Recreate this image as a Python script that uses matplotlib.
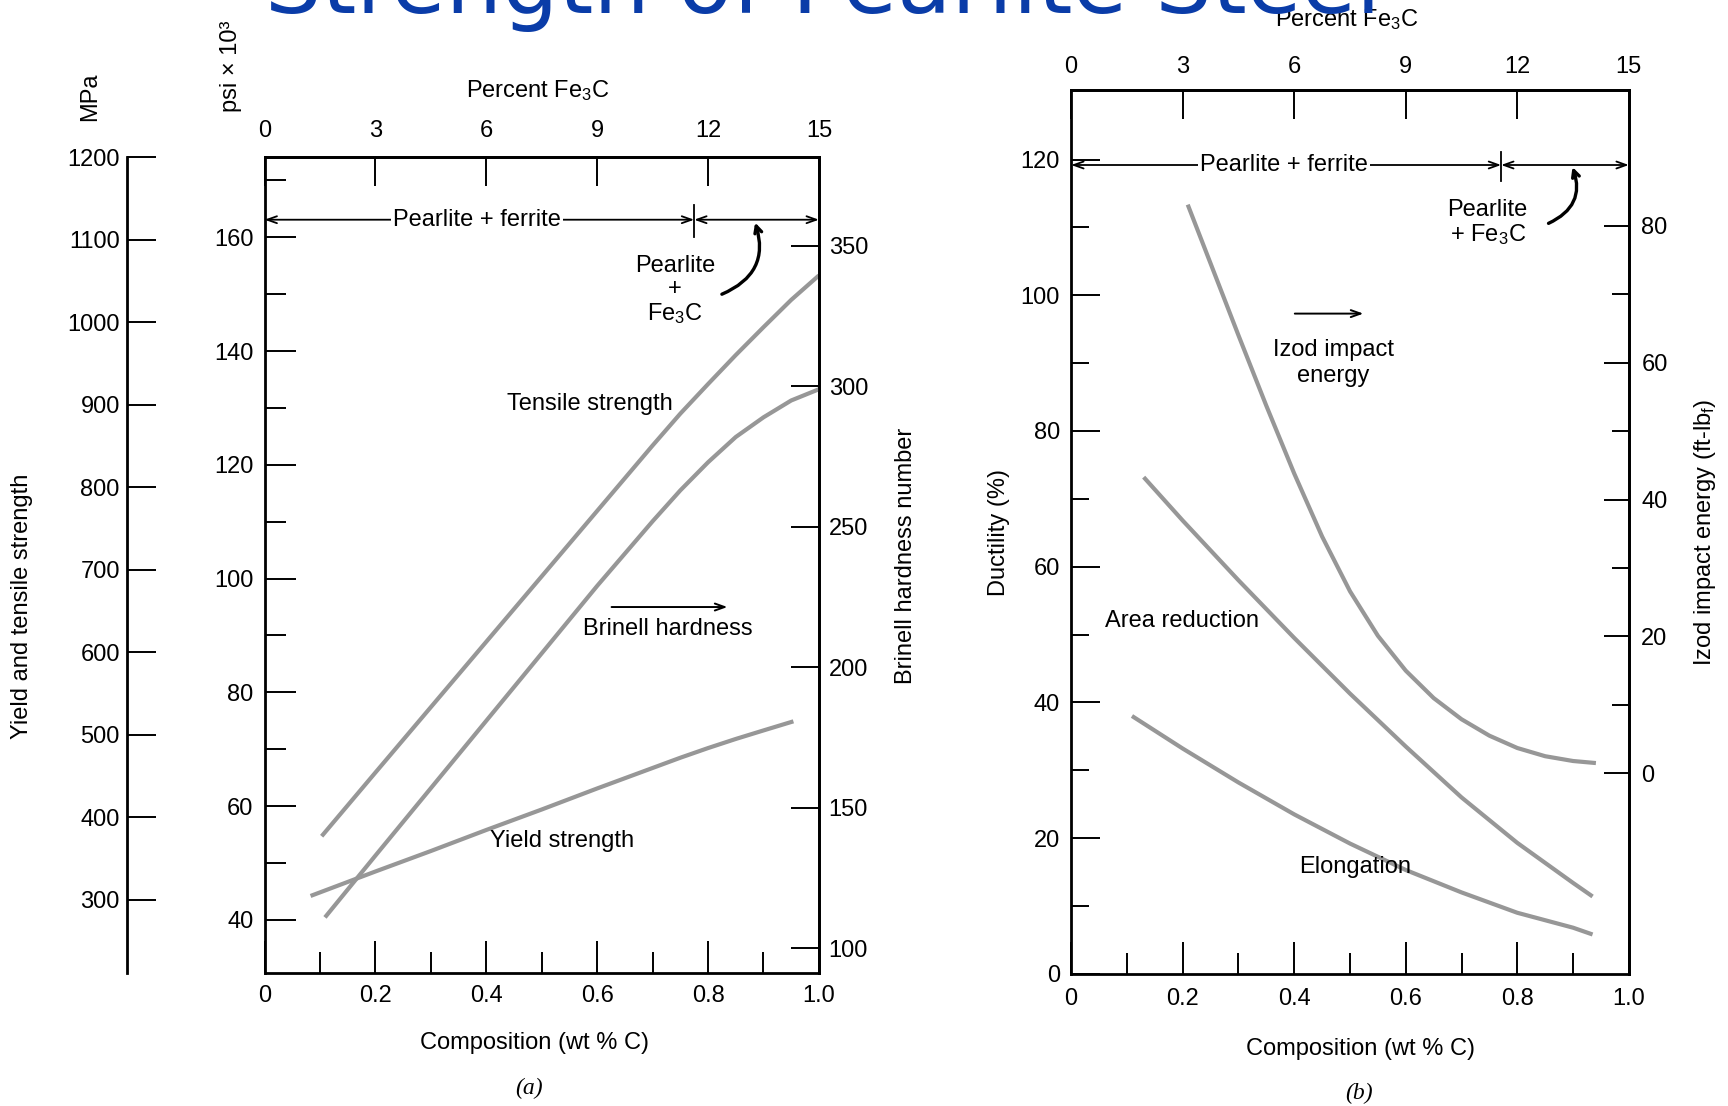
import matplotlib
matplotlib.use("Agg")
import matplotlib.pyplot as plt

plt.rcParams['font.family'] = ['Liberation Sans', 'DejaVu Sans']
plt.rcParams['mathtext.fontset'] = 'custom'
plt.rcParams['mathtext.rm'] = 'Liberation Sans'
plt.rcParams['mathtext.default'] = 'rm'

# ---------------- (a) strength and hardness vs. carbon ----------------
tensile_carbon = [0.103, 0.2, 0.3, 0.4, 0.5, 0.6, 0.7, 0.75, 0.8, 0.85, 0.9, 0.95, 1.0]
tensile_ksi = [54.7, 65.9, 77.4, 88.9, 100.4, 111.9, 123.4, 129.0, 134.2, 139.3, 144.2, 149.0, 153.3]

yield_carbon = [0.083, 0.2, 0.3, 0.4, 0.5, 0.6, 0.7, 0.75, 0.8, 0.85, 0.9, 0.954]
yield_ksi = [44.2, 48.5, 52.1, 55.8, 59.4, 63.1, 66.7, 68.5, 70.2, 71.8, 73.3, 74.9]

brinell_carbon = [0.109, 0.2, 0.3, 0.4, 0.5, 0.6, 0.7, 0.75, 0.8, 0.85, 0.9, 0.95, 1.0]
brinell_hb = [111, 133, 157, 181, 205, 229, 252, 263, 273, 282, 289, 295, 299]

# ---------------- (b) ductility and toughness vs. carbon ----------------
area_carbon = [0.13, 0.2, 0.3, 0.4, 0.5, 0.6, 0.7, 0.8, 0.9, 0.935]
area_reduction = [73.2, 66.8, 58.0, 49.5, 41.3, 33.5, 26.0, 19.3, 13.4, 11.4]

elong_carbon = [0.109, 0.2, 0.3, 0.4, 0.5, 0.6, 0.7, 0.8, 0.9, 0.935]
elongation = [38.0, 33.2, 28.2, 23.5, 19.2, 15.3, 12.0, 9.0, 6.8, 5.8]

izod_carbon = [0.209, 0.25, 0.3, 0.35, 0.4, 0.45, 0.5, 0.55, 0.6, 0.65,
               0.7, 0.75, 0.8, 0.85, 0.9, 0.941]
izod_ftlb = [83.1, 74.5, 64.0, 53.7, 43.8, 34.6, 26.6, 20.1, 15.0, 11.0,
             7.9, 5.5, 3.7, 2.5, 1.8, 1.5]

# ---------------- axis ticks ----------------
comp_ticks = [0, 0.2, 0.4, 0.6, 0.8, 1.0]
comp_labels = ["0", "0.2", "0.4", "0.6", "0.8", "1.0"]
comp_minor = [0.1, 0.3, 0.5, 0.7, 0.9]
fe3c_ticks = [0, 3, 6, 9, 12, 15]
psi_ticks = [40, 60, 80, 100, 120, 140, 160]
psi_minor = [50, 70, 90, 110, 130, 150, 170]
mpa_ticks = [300, 400, 500, 600, 700, 800, 900, 1000, 1100, 1200]
hb_ticks = [100, 150, 200, 250, 300, 350]
duct_ticks = [0, 20, 40, 60, 80, 100, 120]
duct_minor = [10, 30, 50, 70, 90, 110]
izod_ticks = [0, 20, 40, 60, 80]
izod_minor = [10, 30, 50, 70]

KSI_TO_MPA = 6.895
FE3C_PER_C = 15.0  # percent Fe3C per wt% C (approx.)

GRAY = '#979797'
FS = 17
SPINE_W = 2.0
TICK_W = 1.4

fig = plt.figure(figsize=(17.28, 11.06), dpi=100)


def style_spines(ax):
    for s in ax.spines.values():
        s.set_linewidth(SPINE_W)


def phase_bar(ax, y, split, y_lo, y_hi, label_x):
    kw = dict(arrowstyle='<->,head_length=0.7,head_width=0.25', lw=1.3,
              color='black', shrinkA=0, shrinkB=0)
    ax.annotate('', xy=(0, y), xytext=(split, y), arrowprops=kw)
    ax.annotate('', xy=(split, y), xytext=(1.0, y), arrowprops=kw)
    ax.plot([split, split], [y_lo, y_hi], color='black', lw=1.3)
    ax.text(label_x, y, 'Pearlite + ferrite', ha='center', va='center', fontsize=FS,
            bbox=dict(facecolor='white', edgecolor='none', pad=1.5))


def curve(ax, xs, ys):
    ax.plot(xs, ys, color=GRAY, lw=3.0, solid_capstyle='butt', solid_joinstyle='round')


# ======================= panel (a) =======================
axA = fig.add_axes([0.1531, 0.1205, 0.3208, 0.7371])
style_spines(axA)
axA.set_xlim(0, 1)
axA.set_ylim(30.7, 1200 / KSI_TO_MPA)
axA.set_xticks(comp_ticks)
axA.set_xticklabels(comp_labels)
axA.set_xticks(comp_minor, minor=True)
axA.set_yticks(psi_ticks)
axA.set_yticks(psi_minor, minor=True)
axA.tick_params(axis='x', which='major', direction='in', length=23, width=TICK_W,
                labelsize=FS, pad=9, top=False)
axA.tick_params(axis='x', which='minor', direction='in', length=15, width=TICK_W, top=False)
axA.tick_params(axis='y', which='major', direction='in', length=22, width=TICK_W,
                labelsize=FS, pad=8, right=False)
axA.tick_params(axis='y', which='minor', direction='in', length=15, width=TICK_W, right=False)

topA = axA.secondary_xaxis('top', functions=(lambda c: c * FE3C_PER_C,
                                             lambda p: p / FE3C_PER_C))
topA.set_xticks(fe3c_ticks)
topA.tick_params(direction='in', length=21, width=TICK_W, labelsize=FS, pad=11)
topA.spines['top'].set_linewidth(SPINE_W)

mpa = axA.secondary_yaxis(-0.2485, functions=(lambda k: k * KSI_TO_MPA,
                                              lambda m: m / KSI_TO_MPA))
mpa.set_yticks(mpa_ticks)
mpa.tick_params(direction='in', length=21, width=TICK_W, labelsize=FS, pad=5)
mpa.spines['left'].set_linewidth(SPINE_W)

axB = axA.twinx()
axB.set_ylim(91.3, 381.5)
axB.set_yticks(hb_ticks)
axB.tick_params(axis='y', direction='in', length=20, width=TICK_W, labelsize=FS, pad=7)
for side in ('left', 'top', 'bottom'):
    axB.spines[side].set_visible(False)
axB.spines['right'].set_linewidth(SPINE_W)

curve(axA, tensile_carbon, tensile_ksi)
curve(axA, yield_carbon, yield_ksi)
curve(axB, brinell_carbon, brinell_hb)

phase_bar(axA, 163.1, 0.775, 160.0, 165.6, 0.384)
axA.text(0.740, 150.7, 'Pearlite\n+\nFe$_3$C', ha='center', va='center', fontsize=FS,
         linespacing=1.05)
axA.annotate('', xy=(0.885, 162.6), xytext=(0.825, 150.0),
             arrowprops=dict(arrowstyle='->,head_length=0.5,head_width=0.25', lw=2.4,
                             color='black', shrinkA=0, shrinkB=0,
                             connectionstyle='arc3,rad=0.45'))
axA.text(0.586, 130.7, 'Tensile strength', ha='center', va='center', fontsize=FS)
axA.annotate('', xy=(0.835, 95.0), xytext=(0.626, 95.0),
             arrowprops=dict(arrowstyle='->,head_length=0.7,head_width=0.25', lw=1.4,
                             color='black', shrinkA=0, shrinkB=0))
axA.text(0.728, 91.1, 'Brinell hardness', ha='center', va='center', fontsize=FS)
axA.text(0.537, 53.9, 'Yield strength', ha='center', va='center', fontsize=FS)

fig.text(0.0523, 0.9124, 'MPa', rotation=90, ha='center', va='center', fontsize=FS)
fig.text(0.1339, 0.9402, 'psi × 10³', rotation=90, ha='center', va='center', fontsize=FS)
fig.text(0.0128, 0.4522, 'Yield and tensile strength', rotation=90, ha='center',
         va='center', fontsize=FS)
fig.text(0.3112, 0.9183, 'Percent Fe$_3$C', ha='center', va='center', fontsize=FS)
fig.text(0.3093, 0.0568, 'Composition (wt % C)', ha='center', va='center', fontsize=FS)
fig.text(0.3061, 0.0159, '(a)', ha='center', va='center', fontsize=FS,
         family='Liberation Serif', style='italic')
fig.text(0.5242, 0.4970, 'Brinell hardness number', rotation=90, ha='center',
         va='center', fontsize=FS)

# ======================= panel (b) =======================
axR = fig.add_axes([0.6199, 0.1195, 0.3227, 0.7988])
style_spines(axR)
axR.set_xlim(0, 1)
axR.set_ylim(0, 130.2)
axR.set_xticks(comp_ticks)
axR.set_xticklabels(comp_labels)
axR.set_xticks(comp_minor, minor=True)
axR.set_yticks(duct_ticks)
axR.set_yticks(duct_minor, minor=True)
axR.tick_params(axis='x', which='major', direction='in', length=23, width=TICK_W,
                labelsize=FS, pad=10, top=False)
axR.tick_params(axis='x', which='minor', direction='in', length=15, width=TICK_W, top=False)
axR.tick_params(axis='y', which='major', direction='in', length=21, width=TICK_W,
                labelsize=FS, pad=8, right=False)
axR.tick_params(axis='y', which='minor', direction='in', length=13, width=TICK_W, right=False)

topR = axR.secondary_xaxis('top', functions=(lambda c: c * FE3C_PER_C,
                                             lambda p: p / FE3C_PER_C))
topR.set_xticks(fe3c_ticks)
topR.tick_params(direction='in', length=21, width=TICK_W, labelsize=FS, pad=9)
topR.spines['top'].set_linewidth(SPINE_W)

axI = axR.twinx()
axI.set_ylim(-29.3, 99.8)
axI.set_yticks(izod_ticks)
axI.set_yticks(izod_minor, minor=True)
axI.tick_params(axis='y', which='major', direction='in', length=18, width=TICK_W,
                labelsize=FS, pad=9)
axI.tick_params(axis='y', which='minor', direction='in', length=12, width=TICK_W)
for side in ('left', 'top', 'bottom'):
    axI.spines[side].set_visible(False)
axI.spines['right'].set_linewidth(SPINE_W)

curve(axR, area_carbon, area_reduction)
curve(axR, elong_carbon, elongation)
curve(axI, izod_carbon, izod_ftlb)

phase_bar(axR, 119.2, 0.771, 116.9, 121.1, 0.381)
axR.text(0.747, 110.6, 'Pearlite\n+ Fe$_3$C', ha='center', va='center', fontsize=FS,
         linespacing=1.05)
axR.annotate('', xy=(0.899, 118.9), xytext=(0.856, 110.6),
             arrowprops=dict(arrowstyle='->,head_length=0.5,head_width=0.25', lw=2.4,
                             color='black', shrinkA=0, shrinkB=0,
                             connectionstyle='arc3,rad=0.45'))
axR.annotate('', xy=(0.524, 97.3), xytext=(0.401, 97.3),
             arrowprops=dict(arrowstyle='->,head_length=0.7,head_width=0.25', lw=1.4,
                             color='black', shrinkA=0, shrinkB=0))
axR.text(0.470, 90.0, 'Izod impact\nenergy', ha='center', va='center', fontsize=FS,
         linespacing=1.25)
axR.text(0.198, 52.0, 'Area reduction', ha='center', va='center', fontsize=FS)
axR.text(0.510, 15.8, 'Elongation', ha='center', va='center', fontsize=FS)

fig.text(0.7793, 0.9821, 'Percent Fe$_3$C', ha='center', va='center', fontsize=FS)
fig.text(0.7876, 0.0518, 'Composition (wt % C)', ha='center', va='center', fontsize=FS)
fig.text(0.7864, 0.0110, '(b)', ha='center', va='center', fontsize=FS,
         family='Liberation Serif', style='italic')
fig.text(0.5784, 0.5189, 'Ductility (%)', rotation=90, ha='center', va='center',
         fontsize=FS)
fig.text(0.9866, 0.5189, 'Izod impact energy (ft-lb$_f$)', rotation=90, ha='center',
         va='center', fontsize=FS)

# ---------------- slide heading, running off the top edge ----------------
title = fig.text(0.4764, 0.988, 'Strength of Pearlite Steel', ha='center',
                 va='baseline', color='#0a3ca8', fontsize=60, family='DejaVu Sans')
fig.canvas.draw()
title.set_fontsize(60 * 1118 / title.get_window_extent().width)

fig.savefig('out.png', dpi=100)
